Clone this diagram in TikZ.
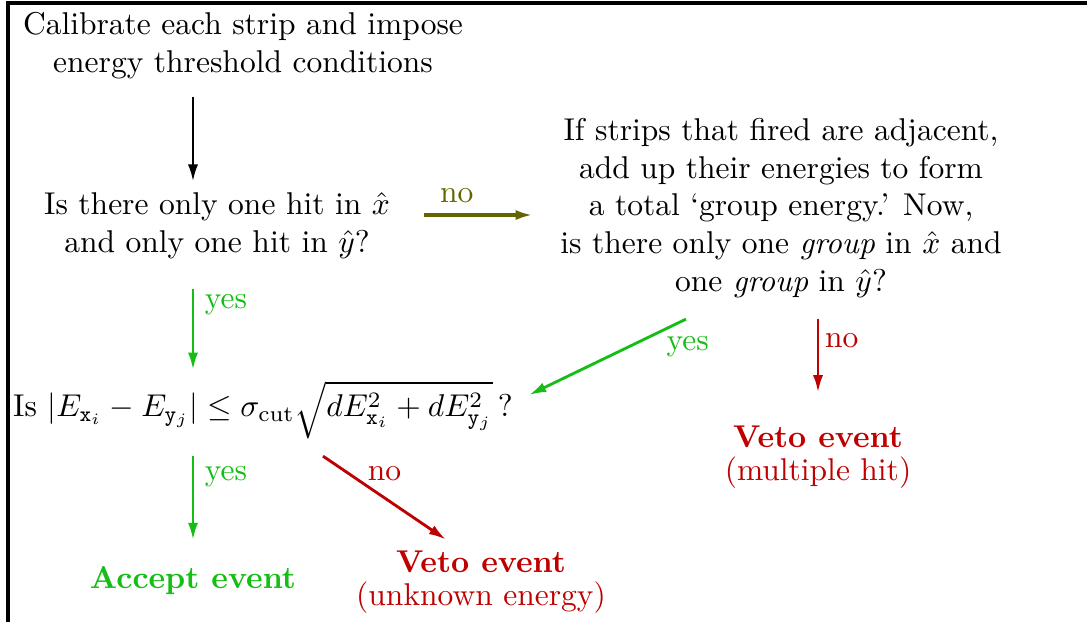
\documentclass[tikz,border=0pt]{standalone}
\usepackage{tikz}
\usetikzlibrary{arrows.meta, positioning, calc}

\definecolor{yesgreen}{RGB}{20,190,20}
\definecolor{nored}{RGB}{190,0,0}
\definecolor{noolive}{RGB}{100,100,0}

\begin{document}
\begin{tikzpicture}[
    x=0.01116cm, y=-0.01116cm,
    % --- BASE STYLES ---
    textnode/.style={align=center, inner sep=3.33pt},
    outcome/.style={align=center, inner sep=3.33pt},
    flow/.style={line width=0.9pt, -{Latex[length=5.5pt, width=3.2pt]}},
    lab/.style={inner sep=3.33pt},
    % --- BRANCH COLOURS ---
    yesflow/.style={flow, draw=yesgreen, fill=yesgreen},
    noflow/.style={flow, draw=nored, fill=nored},
    oliveflow/.style={flow, line width=1.3pt, draw=noolive, fill=noolive},
    yeslab/.style={lab, text=yesgreen},
    nolab/.style={lab, text=nored}
]
\useasboundingbox (0,0) rectangle (1087,622);

% frame
\draw[line width=1pt] (8,622) -- (8,3) -- (1087,3);

% ==========================================
% QUESTIONS
% ==========================================
\node[textnode] (calib) at (243,46) {Calibrate each strip and impose\\energy threshold conditions};
\node[textnode] (q1) at (217,226) {Is there only one hit in $\hat{x}$\\and only one hit in $\hat{y}$?};
\node[textnode] (group) at (781,208) {If strips that fired are adjacent,\\add up their energies to form\\a total `group energy.' Now,\\is there only one \textit{group} in $\hat{x}$ and\\one \textit{group} in $\hat{y}$?};
\node[textnode] (cond) at (263,410) {Is $|E_{\mathtt{x}_i}-E_{\mathtt{y}_j}|\le\sigma_{\mathrm{cut}}\sqrt{dE^2_{\mathtt{x}_i}+dE^2_{\mathtt{y}_j}}\,$?};

% ==========================================
% OUTCOMES
% ==========================================
\node[outcome, text=yesgreen, font=\bfseries] (accept) at (193,581) {Accept event};
\node[outcome, text=nored] (vetomulti) at (818,457) {\textbf{Veto event}\\[-1.5pt](multiple hit)};
\node[outcome, text=nored] (vetounk) at (481,582) {\textbf{Veto event}\\[-1.5pt](unknown energy)};

% ==========================================
% CONNECTORS
% ==========================================
\draw[flow, shorten <=2pt] (calib.south -| accept.north) -- (q1.north -| accept.north);
\draw[oliveflow] ($(q1.east)+(23,-11)$) -- node[lab, text=noolive, above, pos=0.3] {no} ($(q1.east)+(132,-11)$);
\draw[yesflow, shorten <=6pt] (q1.south -| accept.north) -- node[yeslab, right, pos=0.35] {yes} (cond.north -| accept.north);
\draw[yesflow] ($(group.south)+(-95,10)$) -- node[yeslab, below right, pos=0.2, yshift=3pt] {yes} ($(cond.east)+(5,-15)$);
\draw[noflow, shorten <=3pt, shorten >=7pt] (group.south -| vetomulti.north) -- node[nolab, right, pos=0.3, xshift=-1.5pt] {no} (vetomulti.north);
\draw[yesflow, shorten <=2pt, shorten >=5pt] (cond.south -| accept.north) -- node[yeslab, right, pos=0.25] {yes} (accept.north);
\draw[noflow] ($(cond.south)+(60,6)$) -- node[nolab, above, pos=0.5, yshift=1.5pt] {no} ($(vetounk.north)+(-35,0)$);

\end{tikzpicture}
\end{document}
